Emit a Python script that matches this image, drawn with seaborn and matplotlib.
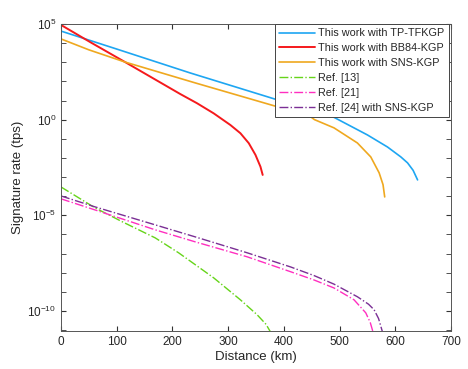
import numpy as np
import pandas as pd
import matplotlib
matplotlib.use("Agg")
import matplotlib.pyplot as plt
import seaborn as sns
from matplotlib.ticker import FixedLocator, NullFormatter

# Distance (km) and log10 of signature rate (tps)
tp_d = [0, 100, 232, 390, 450, 490, 550, 586, 610, 622, 632, 640]
tp_log = [4.63, 3.69, 2.44, 1.02, 0.5, 0.12, -0.8, -1.43, -1.95, -2.26, -2.65, -3.15]

bb84_d = [0, 52, 115, 214, 244, 274, 304, 322, 337, 349, 358, 362]
bb84_log = [4.95, 4.06, 3.01, 1.34, 0.86, 0.33, -0.28, -0.71, -1.23, -1.84, -2.46, -2.89]

sns_d = [0, 50, 115, 241, 390, 440, 448, 455, 490, 532, 556, 571, 578, 581]
sns_log = [4.22, 3.65, 3.01, 1.92, 0.66, 0.25, 0.15, 0.0, -0.43, -1.22, -1.95, -2.78, -3.4, -4.04]

ref13_d = [0, 61, 110, 169, 211, 274, 322, 352, 368, 376]
ref13_log = [-3.52, -4.61, -5.34, -6.18, -6.96, -8.27, -9.42, -10.2, -10.7, -11.1]

ref21_d = [0, 61, 169, 241, 334, 412, 454, 490, 526, 547, 555, 560]
ref21_log = [-4.14, -4.72, -5.76, -6.39, -7.17, -7.95, -8.38, -8.8, -9.42, -10.1, -10.6, -11.1]

ref24_d = [0, 61, 169, 241, 334, 412, 454, 490, 532, 552, 562, 570, 575, 577]
ref24_log = [-3.99, -4.56, -5.5, -6.13, -6.96, -7.7, -8.15, -8.6, -9.26, -9.65, -9.94, -10.4, -10.9, -11.1]

labels = ["This work with TP-TFKGP", "This work with BB84-KGP", "This work with SNS-KGP",
          "Ref. [13]", "Ref. [21]", "Ref. [24] with SNS-KGP"]
colors = ["#1ea6f2", "#f5191c", "#efa81f", "#66d41a", "#ff2fc0", "#7b2f95"]
styles = ["-", "-", "-", "-.", "-.", "-."]
widths = [1.2, 1.4, 1.2, 1.0, 1.0, 1.0]

series = [(tp_d, tp_log), (bb84_d, bb84_log), (sns_d, sns_log),
          (ref13_d, ref13_log), (ref21_d, ref21_log), (ref24_d, ref24_log)]

sns.set_style("ticks", {"xtick.direction": "in", "ytick.direction": "in"})
plt.rcParams["font.family"] = ["Liberation Sans", "DejaVu Sans"]
plt.rcParams["mathtext.fontset"] = "custom"
plt.rcParams["mathtext.rm"] = "Liberation Sans"
plt.rcParams["mathtext.it"] = "Liberation Sans"

fig = plt.figure(figsize=(4.68, 3.69), dpi=100)
ax = fig.add_axes([61 / 468, 1 - 331 / 369, 390 / 468, 307 / 369])

for (d, lg), lab, c, ls, lw in zip(series, labels, colors, styles, widths):
    df = pd.DataFrame({"Distance": d, "Rate": 10.0 ** np.array(lg)})
    sns.lineplot(data=df, x="Distance", y="Rate", ax=ax, color=c, linestyle=ls,
                 linewidth=lw, label=lab, sort=False)

ax.set_yscale("log")
ax.set_xlim(0, 700)
ax.set_ylim(10 ** -11.05, 1e5)
ax.set_xticks(range(0, 701, 100))
ax.yaxis.set_major_locator(FixedLocator([1e-10, 1e-5, 1e0, 1e5]))
ax.yaxis.set_minor_locator(FixedLocator([10.0 ** k for k in range(-11, 6)]))
ax.yaxis.set_minor_formatter(NullFormatter())
ax.set_yticklabels([r"$10^{-10}$", r"$10^{-5}$", r"$10^{0}$", r"$10^{5}$"])

ax.tick_params(which="both", top=True, right=True, direction="in",
               labelsize=8.5, color="#333333", colors="#262626")
ax.tick_params(which="major", length=3.5)
ax.tick_params(which="minor", length=3.5)
for sp in ax.spines.values():
    sp.set_color("#555555")
    sp.set_linewidth(0.7)

ax.set_xlabel("Distance (km)", fontsize=9.5, labelpad=2)
ax.set_ylabel("Signature rate (tps)", fontsize=9.5, labelpad=2)

leg = ax.legend(loc="upper right", bbox_to_anchor=(0.995, 1.0), borderaxespad=0,
                fontsize=7.8, handlelength=3.3, labelspacing=0.45, handletextpad=0.3,
                borderpad=0.4, fancybox=False, framealpha=1, edgecolor="#444444")
leg.get_frame().set_linewidth(0.7)

fig.savefig("out.png", dpi=100)
